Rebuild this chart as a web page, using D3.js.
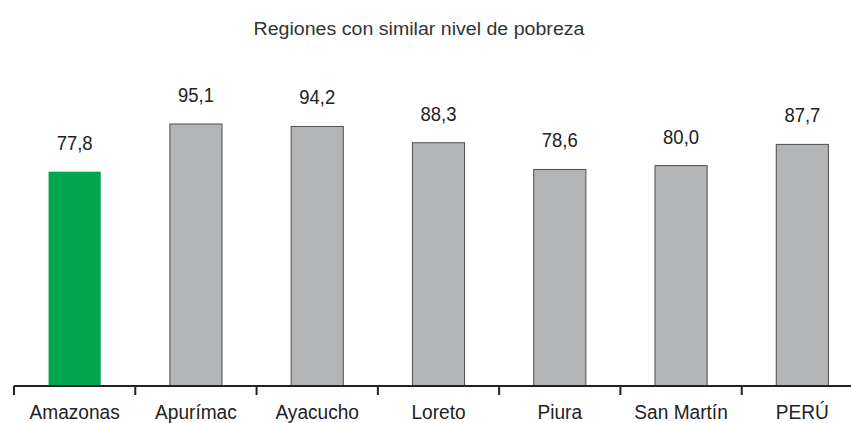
<html>
<head><meta charset="utf-8"></head>
<body style="margin:0;background:white">
<svg id="svg" width="851" height="423"></svg>
<script src="https://cdn.jsdelivr.net/npm/d3@7"></script>
<script>

var regiones = ["Amazonas", "Apurímac", "Ayacucho", "Loreto", "Piura", "San Martín", "PERÚ"];
var pobreza = [77.8, 95.1, 94.2, 88.3, 78.6, 80.0, 87.7];
var titulo = "Regiones con similar nivel de pobreza";

var data = regiones.map((r, i) => ({region: r, valor: pobreza[i]}));
var font = "'Liberation Sans', Arial, sans-serif";

var svg = d3.select("#svg");

var x = d3.scaleBand().domain(regiones).range([14, 863]).paddingInner(0.57).paddingOuter(0.285);
var y = d3.scaleLinear().domain([0, 100]).range([386, 110.5]);

// texto estrechado horizontalmente (la fuente original es condensada)
function place(sel, px, py, sx) {
  sel.attr("text-anchor", "middle")
    .attr("transform", (d, i) => "translate(" + px(d, i) + "," + py(d, i) + ") scale(" + sx + ",1)");
}

svg.append("text").datum(titulo)
  .attr("font-family", font).attr("font-size", 17.5)
  .style("fill", "#333")
  .text(titulo)
  .call(place, () => 419, () => 35, 1.12);

svg.selectAll("rect.bar").data(data)
  .join("rect").classed("bar", true)
    .attr("x", d => x(d.region))
    .attr("y", d => y(d.valor))
    .attr("width", x.bandwidth())
    .attr("height", d => y(0) - y(d.valor))
    .style("fill", (d, i) => i == 0 ? "#00a650" : "#b4b5b7")
    .style("stroke", (d, i) => i == 0 ? "none" : "#4d4d4d")
    .style("stroke-width", 1);

svg.selectAll("text.val").data(data)
  .join("text").classed("val", true)
    .attr("font-family", font).attr("font-size", 21)
    .style("fill", "#222")
    .text(d => d.valor.toFixed(1).replace(".", ","))
    .call(place, d => x(d.region) + x.bandwidth() / 2, d => y(d.valor) - 22, 0.88);

// eje horizontal con marcas entre categorias
var step = x.step();
var ticks = d3.range(regiones.length + 1).map(i => 14 + i * step);

svg.append("line")
  .attr("x1", 14).attr("x2", 863)
  .attr("y1", 386).attr("y2", 386)
  .style("stroke", "#222").style("stroke-width", 2);

svg.selectAll("line.tk").data(ticks)
  .join("line").classed("tk", true)
    .attr("x1", d => d).attr("x2", d => d)
    .attr("y1", 386).attr("y2", 395)
    .style("stroke", "#222").style("stroke-width", 2);

svg.selectAll("text.cat").data(data)
  .join("text").classed("cat", true)
    .attr("font-family", font).attr("font-size", 21)
    .style("fill", "#222")
    .text(d => d.region)
    .call(place, d => x(d.region) + x.bandwidth() / 2, () => 418.5, 0.91);

</script>
</body>
</html>
